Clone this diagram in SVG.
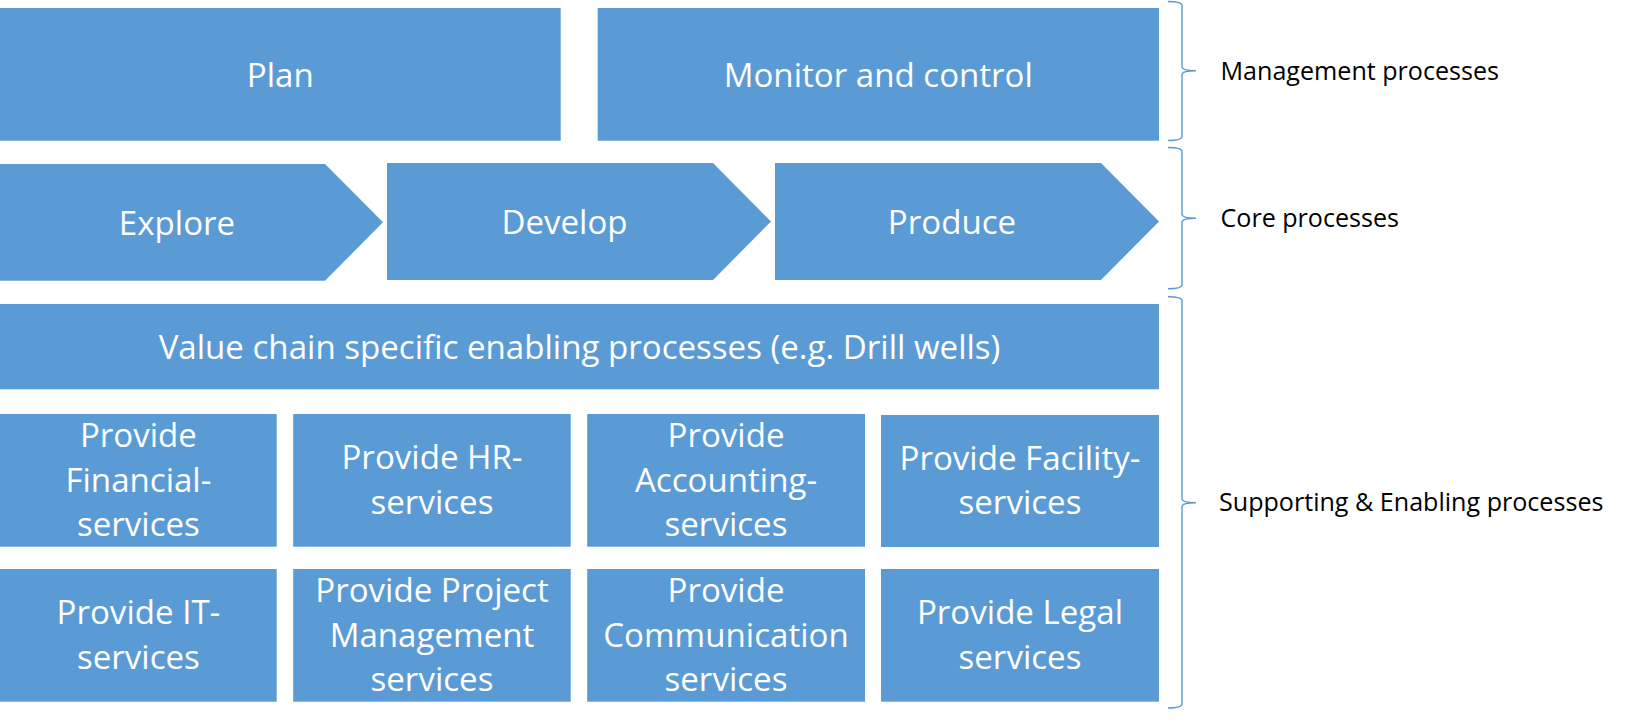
<svg xmlns="http://www.w3.org/2000/svg" width="1627" height="726" viewBox="0 0 1627 726">
<style>
.box{fill:#5B9BD5;}
.t{font-family:"Open Sans","Noto Sans","Liberation Sans",sans-serif;font-size:33.1px;fill:#FFFFFF;text-anchor:middle;}
.lbl{font-family:"Open Sans","Noto Sans","Liberation Sans",sans-serif;font-size:25.1px;fill:#000000;}
.brace{fill:none;stroke:#5B9BD5;stroke-width:1.4;}
</style>
<rect width="1627" height="726" fill="#FFFFFF"/>
<g id="plan"><rect class="box" x="0" y="8" width="560.7" height="132.7"/><text class="t" x="280.3" y="87">Plan</text></g>
<g id="monitor"><rect class="box" x="597.7" y="8" width="561.3" height="132.7"/><text class="t" x="878.3" y="87">Monitor and control</text></g>
<g id="explore"><polygon class="box" points="0,164 325,164 383,222.3 325,280.7 0,280.7"/><text class="t" x="177" y="234.5">Explore</text></g>
<g id="develop"><polygon class="box" points="387,163 713,163 771,221.5 713,280 387,280"/><text class="t" x="564.5" y="233.8">Develop</text></g>
<g id="produce"><polygon class="box" points="775,163 1101,163 1159,221.5 1101,280 775,280"/><text class="t" x="952" y="233.8">Produce</text></g>
<g id="valuechain"><rect class="box" x="0" y="304" width="1159" height="85.3"/><text class="t" x="579.5" y="359">Value chain specific enabling processes (e.g. Drill wells)</text></g>
<g id="financial"><rect class="box" x="0" y="414" width="276.7" height="132.7"/><text class="t" x="138.4"><tspan x="138.4" y="447">Provide</tspan><tspan x="138.4" y="491.5">Financial-</tspan><tspan x="138.4" y="536">services</tspan></text></g>
<g id="hr"><rect class="box" x="293.2" y="414" width="277.5" height="132.7"/><text class="t"><tspan x="432" y="469.3">Provide HR-</tspan><tspan x="432" y="513.7">services</tspan></text></g>
<g id="accounting"><rect class="box" x="587.2" y="414" width="277.8" height="132.7"/><text class="t"><tspan x="726" y="447">Provide</tspan><tspan x="726" y="491.5">Accounting-</tspan><tspan x="726" y="536">services</tspan></text></g>
<g id="facility"><rect class="box" x="881" y="415" width="278" height="132"/><text class="t"><tspan x="1020" y="469.8">Provide Facility-</tspan><tspan x="1020" y="514.2">services</tspan></text></g>
<g id="it"><rect class="box" x="0" y="569" width="276.7" height="132.7"/><text class="t"><tspan x="138.4" y="624.3">Provide IT-</tspan><tspan x="138.4" y="668.7">services</tspan></text></g>
<g id="projectmgmt"><rect class="box" x="293.2" y="569" width="277.5" height="132.7"/><text class="t"><tspan x="432" y="602">Provide Project</tspan><tspan x="432" y="646.5">Management</tspan><tspan x="432" y="691">services</tspan></text></g>
<g id="communication"><rect class="box" x="587.2" y="569" width="277.8" height="132.7"/><text class="t"><tspan x="726" y="602">Provide</tspan><tspan x="726" y="646.5">Communication</tspan><tspan x="726" y="691">services</tspan></text></g>
<g id="legal"><rect class="box" x="881" y="569" width="278" height="132.7"/><text class="t"><tspan x="1020" y="624.3">Provide Legal</tspan><tspan x="1020" y="668.7">services</tspan></text></g>
<g id="connectors">
<path class="brace" d="M1168,1.5 Q1182,1.5 1182,5.5 V66.7 Q1182,70.7 1196,70.7 Q1182,70.7 1182,74.7 V136.5 Q1182,140.5 1168,140.5"/>
<path class="brace" d="M1168,147.5 Q1182,147.5 1182,151.5 V214.3 Q1182,218.3 1196,218.3 Q1182,218.3 1182,222.3 V284.7 Q1182,288.7 1168,288.7"/>
<path class="brace" d="M1168,296.7 Q1182,296.7 1182,300.7 V498.7 Q1182,502.7 1196,502.7 Q1182,502.7 1182,506.7 V704 Q1182,708 1168,708"/>
</g>
<g id="labels">
<text class="lbl" x="1220.5" y="80">Management processes</text>
<text class="lbl" x="1220.5" y="226.7">Core processes</text>
<text class="lbl" x="1219" y="511">Supporting &amp; Enabling processes</text>
</g>
</svg>
